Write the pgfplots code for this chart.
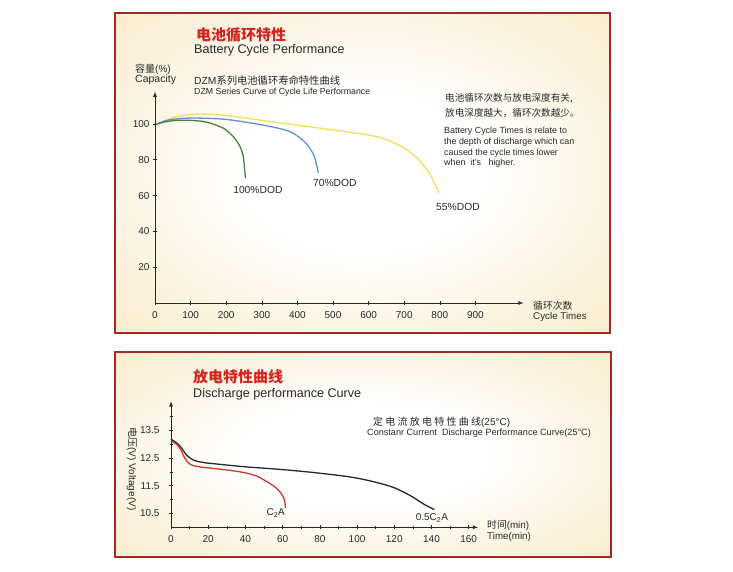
\documentclass[border=0pt]{standalone}
\usepackage{fontspec}
\setmainfont{Liberation Sans}
\newfontfamily\cjk{Noto Sans CJK SC}
\usepackage{pgfplots}
\pgfplotsset{compat=1.18}
\definecolor{frame}{RGB}{160,42,42}
\definecolor{cream}{RGB}{245,228,182}
\definecolor{titred}{RGB}{215,35,30}
\definecolor{txt}{RGB}{40,40,40}
\definecolor{cgreen}{RGB}{80,125,60}
\definecolor{cblue}{RGB}{95,145,215}
\definecolor{cyellow}{RGB}{238,224,90}
\definecolor{cblack}{RGB}{40,40,40}
\definecolor{cred}{RGB}{210,55,40}
\newcommand\fs[1]{\fontsize{#1}{#1}\selectfont}
\pgfdeclareradialshading{panel}{\pgfpoint{0bp}{0bp}}{color(0bp)=(white);color(12bp)=(white);color(46bp)=(cream);color(75bp)=(cream)}
\begin{document}
\begin{tikzpicture}[x=1pt,y=1pt]
\useasboundingbox (0,0) rectangle (733,-572);
\fill[white] (0,0) rectangle (733,-572);
% panels
\shade[shading=panel] (115,-13) rectangle (610,-333);
\draw[frame, line width=2.5pt] (115,-13) rectangle (610,-333);
\shade[shading=panel] (115,-352) rectangle (611,-557);
\draw[frame, line width=2.5pt] (115,-352) rectangle (611,-557);

% ---------- top texts
\node[anchor=west, inner sep=0, text=titred] at (196,-35) {\cjk\bfseries\fs{15}电池循环特性};
\node[anchor=west, inner sep=0, text=txt] at (194,-50) {\fs{12.6}Battery Cycle Performance};
\node[anchor=west, inner sep=0, text=txt] at (135,-69) {\fs{10}{\cjk 容量}(\%)};
\node[anchor=west, inner sep=0, text=txt] at (135,-80) {\fs{10.5}Capacity};
\node[anchor=west, inner sep=0, text=txt] at (194,-81) {\fs{10.3}DZM{\cjk 系列电池循环寿命特性曲线}};
\node[anchor=west, inner sep=0, text=txt] at (194,-92) {\fs{8.8}DZM Series Curve of Cycle Life Performance};
\node[anchor=west, inner sep=0, text=txt] at (445,-98) {\cjk\fs{9.6}电池循环次数与放电深度有关,};
\node[anchor=west, inner sep=0, text=txt] at (445,-113) {\cjk\fs{9.6}放电深度越大，循环次数越少。};
\node[anchor=west, inner sep=0, text=txt] at (444,-131) {\fs{8.9}Battery Cycle Times is relate to};
\node[anchor=west, inner sep=0, text=txt] at (444,-142) {\fs{8.9}the depth of discharge which can};
\node[anchor=west, inner sep=0, text=txt] at (444,-153) {\fs{8.9}caused the cycle times lower};
\node[anchor=west, inner sep=0, text=txt] at (444,-163) {\fs{8.9}when\ \ it's\ \ \ higher.};
\node[anchor=west, inner sep=0, text=txt] at (533,-306) {\cjk\fs{9.8}循环次数};
\node[anchor=west, inner sep=0, text=txt] at (533,-317) {\fs{9.8}Cycle Times};

\begin{axis}[
  at={(155pt,-303pt)}, anchor=south west,
  scale only axis, width=368.5pt, height=211.3pt,
  xmin=0, xmax=1035, ymin=0, ymax=118,
  axis x line=bottom, axis y line=left,
  axis line style={txt, line width=0.8pt, -latex},
  xtick={0,100,...,900}, ytick={20,40,...,100},
  tick align=center, major tick length=4pt,
  tick style={txt, line width=0.6pt},
  ticklabel style={font=\fs{10}, text=txt},
  xticklabel style={yshift=-3pt},
  /pgf/number format/assume math mode=true,
  clip=false,
]
\addplot[cyellow, line width=1.3pt, smooth] coordinates {
 (5,100) (30,102) (61,104.1) (117,105.5) (184,105) (246,103.5) (340,100.9)
 (480,97.2) (621,93) (686,88) (733,81.6) (771,72.4) (797,61.7)};
\addplot[cblue, line width=1.3pt, smooth] coordinates {
 (5,100) (30,101.8) (60,102.8) (106,103.3) (184,102.8) (248,101.2) (323,98.6)
 (379,95.7) (415,91) (433,87) (448,81.6) (457,74.2) (459,72.7)};
\addplot[cgreen, line width=1.3pt, smooth] coordinates {
 (5,100) (30,101.2) (61,102) (100,102) (145,101) (192,97.6) (220,92.9)
 (239,87.3) (248,81.7) (252,74) (254,69.6)};
\node[font=\fs{10.3}, text=txt] at (axis cs:289,63) {100\%DOD};
\node[font=\fs{10.3}, text=txt] at (axis cs:505,67) {70\%DOD};
\node[font=\fs{10.3}, text=txt] at (axis cs:851,53.6) {55\%DOD};
\end{axis}

% ---------- bottom texts
\node[anchor=west, inner sep=0, text=titred] at (193,-377) {\cjk\bfseries\fs{15}放电特性曲线};
\node[anchor=west, inner sep=0, text=txt] at (193,-394) {\fs{12.6}Discharge performance Curve};
\node[anchor=west, inner sep=0, text=txt] at (373,-422) {\fs{10}{\cjk 定 电 流 放 电 特 性 曲 线}(25°C)};
\node[anchor=west, inner sep=0, text=txt] at (367,-433) {\fs{9.1}Constanr Current\ \ Discharge Performance Curve(25°C)};
\node[anchor=west, inner sep=0, text=txt] at (487,-525) {\fs{9.8}{\cjk 时间}(min)};
\node[anchor=west, inner sep=0, text=txt] at (487,-537) {\fs{9.8}Time(min)};
\node[rotate=-90, inner sep=0, text=txt] at (132,-469) {\fs{10}{\cjk 电压}(V) Voltage(V)};

\begin{axis}[
  at={(171pt,-527.3pt)}, anchor=south west,
  scale only axis, width=307pt, height=126pt,
  xmin=0, xmax=165, ymin=10, ymax=14.55,
  axis x line=bottom, axis y line=left,
  axis line style={txt, line width=0.8pt, -latex},
  xtick={0,20,...,160}, minor xtick={10,30,...,150},
  ytick={10.5,11.5,12.5,13.5}, minor ytick={11,12,13,14},
  tick align=center, major tick length=4pt, minor tick length=3pt,
  tick style={txt, line width=0.6pt},
  ticklabel style={font=\fs{10}, text=txt},
  xticklabel style={yshift=-3pt},
  yticklabel style={xshift=-6pt, /pgf/number format/.cd, fixed, fixed zerofill, precision=1},
  /pgf/number format/assume math mode=true,
  clip=false,
]
\addplot[cblack, line width=1.3pt, smooth] coordinates {
 (0,13.18) (3,13.05) (5.5,12.88) (8.5,12.6) (12.3,12.42) (17.5,12.34) (21,12.31)
 (39,12.19) (57,12.1) (75,11.99) (93,11.85) (102,11.75) (111,11.61) (120,11.43)
 (129,11.13) (136,10.83) (141.5,10.64)};
\addplot[cred, line width=1.3pt, smooth] coordinates {
 (0,13.11) (3,13.0) (5.3,12.8) (7.4,12.5) (10.4,12.27) (15.5,12.18) (21,12.14)
 (30,12.07) (39,11.98) (46,11.85) (52,11.63) (56,11.45) (59.3,11.22) (61,10.98) (61.5,10.7)};
\node[font=\fs{10}, text=txt] at (axis cs:56.3,10.52) {C\textsubscript{2}A};
\node[font=\fs{10}, text=txt] at (axis cs:140.2,10.34) {0.5C\textsubscript{2}A};
\end{axis}
\end{tikzpicture}
\end{document}
